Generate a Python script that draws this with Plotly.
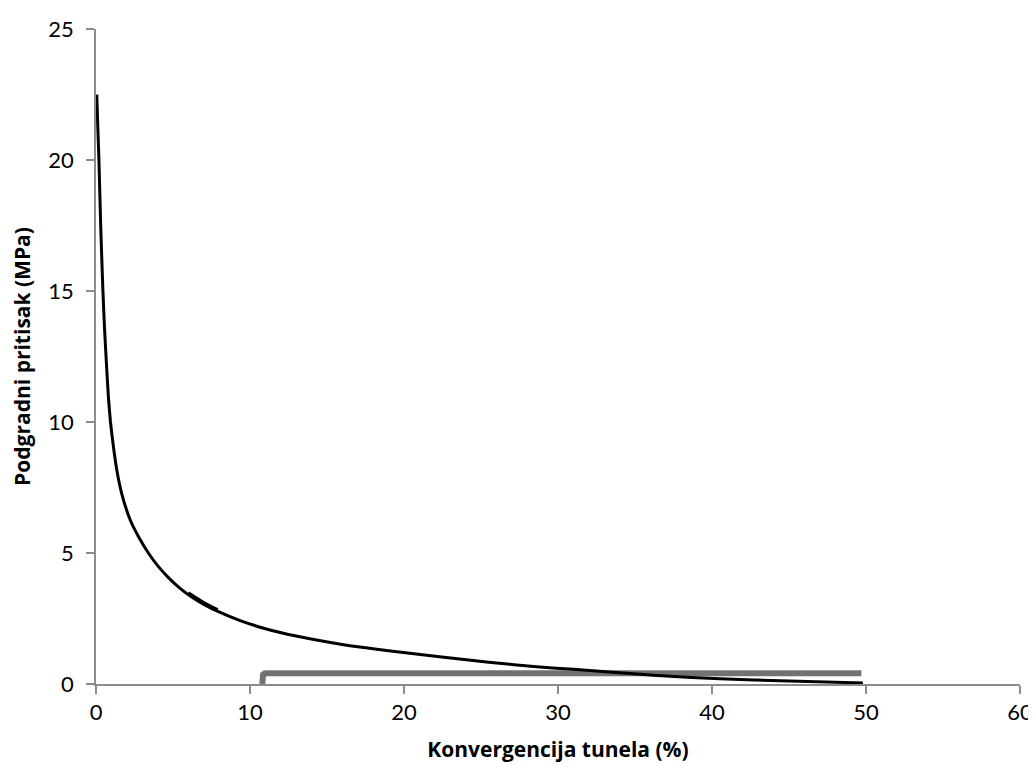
import plotly.graph_objects as go

# Ground reaction curve (black)
grc_x = [0.05, 0.12, 0.19, 0.31, 0.45, 0.56, 0.68, 0.80, 0.94, 1.10, 1.37, 1.70, 2.23, 2.80, 3.40, 4.00, 4.72, 5.40, 6.12, 7.00, 8.06, 9.36, 11.0, 13.0, 15.8, 19.0, 22.3, 25.5, 28.8, 31.0, 33.1, 36.2, 40.5, 45.0, 49.8]
grc_y = [22.5, 21.2, 20.0, 17.4, 15.0, 13.5, 12.2, 11.0, 10.0, 9.2, 8.1, 7.2, 6.25, 5.58, 5.0, 4.52, 4.05, 3.68, 3.36, 3.04, 2.73, 2.42, 2.11, 1.83, 1.53, 1.27, 1.04, 0.83, 0.65, 0.56, 0.47, 0.33, 0.20, 0.11, 0.04]

# Short overlapping segment
seg_x = [6.0, 7.0, 7.9]
seg_y = [3.48, 3.11, 2.84]

# Support characteristic line (gray)
sup_x = [10.8, 10.8, 10.85, 10.95, 11.1, 49.7]
sup_y = [0.0, 0.28, 0.36, 0.40, 0.41, 0.41]

x_ticks = [0, 10, 20, 30, 40, 50, 60]
y_ticks = [0, 5, 10, 15, 20, 25]

fig = go.Figure()
fig.add_trace(go.Scatter(x=sup_x, y=sup_y, mode="lines",
                         line=dict(color="#767171", width=6), hoverinfo="skip"))
fig.add_trace(go.Scatter(x=grc_x, y=grc_y, mode="lines",
                         line=dict(color="#000000", width=3, shape="spline", smoothing=0.5), hoverinfo="skip"))
fig.add_trace(go.Scatter(x=seg_x, y=seg_y, mode="lines",
                         line=dict(color="#000000", width=3, shape="spline"), hoverinfo="skip"))

axis_common = dict(showgrid=False, zeroline=False, showline=True, linecolor="#8c8c8c", linewidth=1.5,
                   ticks="outside", ticklen=8, tickwidth=1.5, tickcolor="#8c8c8c", automargin=False,
                   tickfont=dict(family="Lato", size=22, color="#000000"))

fig.update_xaxes(range=[0, 60], tickvals=x_ticks, **axis_common,
                 title=dict(text="<b>Konvergencija tunela (%)</b>",
                            font=dict(family="Open Sans", size=21, color="#000000"), standoff=20))
fig.update_yaxes(range=[0, 25], tickvals=y_ticks, ticklabelstandoff=8, **axis_common,
                 title=dict(text="<b>Podgradni pritisak (MPa)</b>",
                            font=dict(family="Open Sans", size=21, color="#000000"), standoff=16))

fig.update_layout(width=1028, height=755, showlegend=False,
                  plot_bgcolor="white", paper_bgcolor="white",
                  margin=dict(l=88, r=16, t=21, b=79))

fig.write_html("out.html")
